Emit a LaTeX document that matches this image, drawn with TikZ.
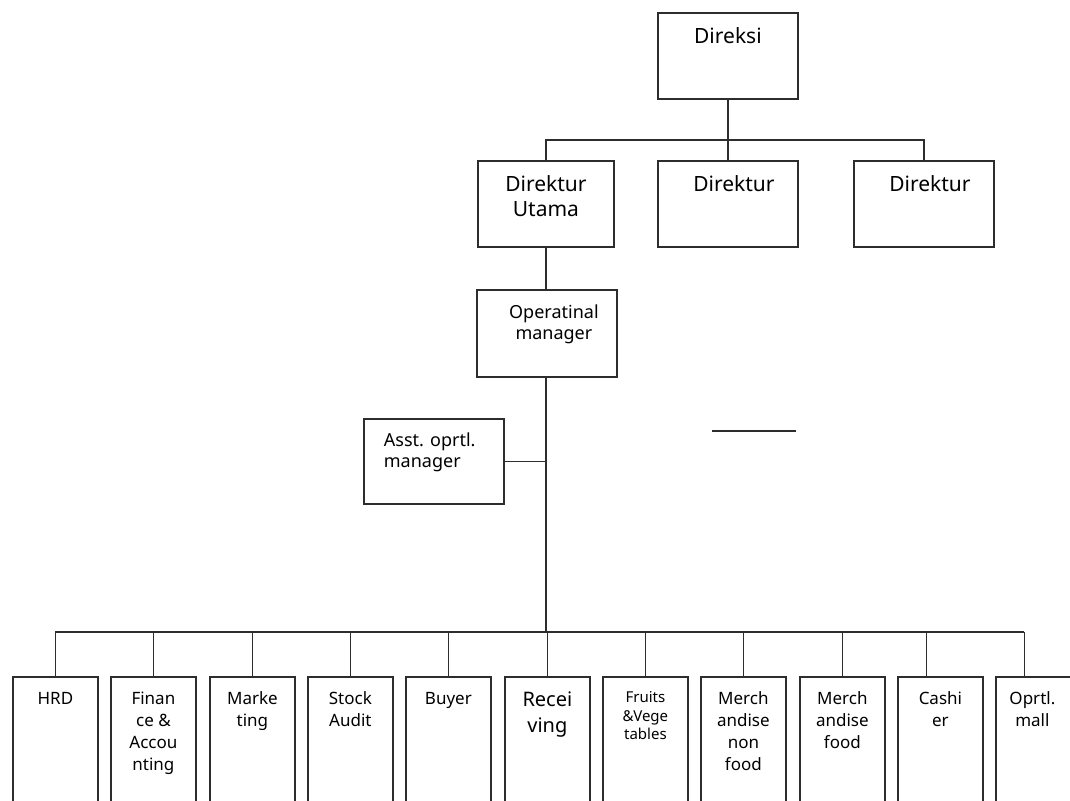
\documentclass[tikz,border=0pt]{standalone}
\usepackage{fontspec}
\setmainfont{Noto Sans}
\begin{document}
\begin{tikzpicture}[x=1pt, y=-1pt, line width=1.8pt]
	\definecolor{linegray}{RGB}{45, 45, 45}
	\tikzset{
		unit/.style={draw=linegray, inner sep=0pt, anchor=north west},
		caption/.style={anchor=north, align=center, inner sep=0pt, font=\fontsize{21}{25}\selectfont},
		midcap/.style={caption, font=\fontsize{18}{21}\selectfont},
		smallcap/.style={caption, font=\fontsize{17}{22}\selectfont},
		tinycap/.style={caption, font=\fontsize{15}{18.5}\selectfont},
		bigcap/.style={caption, font=\fontsize{20}{26}\selectfont}
	}
	\clip (0, 0) rectangle (1070, 800);
	
	% \drawunit#name#x#y#width#height#captionstyle#label
	\def\drawunit#1#2#3#4#5#6#7{
		\node[unit, minimum width=#4pt, minimum height=#5pt] (#1) at (#2, #3) {};
		\node[#6] (#1-label) at ([yshift=-15pt]#1.north) {#7};
	}
	
	% \drawstaff#name#x#captionstyle#label
	\def\drawstaff#1#2#3#4{
		\drawunit{#1}{#2}{676}{85}{150}{#3}{#4}
	}
	
	% top levels
	\drawunit{direksi}{657}{12}{140}{86}{caption}{Direksi}
	\drawunit{dirut}{477}{160}{136}{86}{caption}{Direktur\\Utama}
	\drawunit{dirtwo}{657}{160}{140}{86}{caption, xshift=6pt}{Direktur}
	\drawunit{dirthree}{853}{160}{140}{86}{caption, xshift=6pt}{Direktur}
	\coordinate (topbus) at (0, 140);
	\draw[linegray] (direksi) -- (dirtwo);
	\draw[linegray] (dirut.north) -- (dirut.north |- topbus) -| (dirthree.north);
	
	% managers
	\drawunit{opman}{476}{289}{140}{87}{midcap, xshift=7pt}{Operatinal\\manager}
	\node[unit, minimum width=140pt, minimum height=85pt] (asst) at (363, 418) {};
	\node[midcap, anchor=north west, align=left] (asst-label) at ([xshift=20pt, yshift=-14pt]asst.north west) {Asst. oprtl.\\manager};
	\draw[linegray] (dirut.south) -- (dirut.south |- opman.north);
	\coordinate (botbus) at (0, 632);
	\draw[linegray] (dirut.south |- opman.south) -- (dirut.south |- botbus);
	\draw[linegray] (asst.east) -- (asst.east -| dirut.south);
	\draw[linegray] (712, 431) -- (796, 431);
	
	% staff row
	\drawstaff{hrd}{12}{smallcap}{HRD}
	\drawstaff{finance}{110}{smallcap}{Finan\\ce \&\\Accou\\nting}
	\drawstaff{marketing}{209}{smallcap}{Marke\\ting}
	\drawstaff{audit}{307}{smallcap}{Stock\\Audit}
	\drawstaff{buyer}{405}{smallcap}{Buyer}
	\drawstaff{receiving}{504}{bigcap}{Recei\\ving}
	\drawstaff{fruits}{602}{tinycap}{Fruits\\\&Vege\\tables}
	\drawstaff{nonfood}{700}{smallcap}{Merch\\andise\\non\\food}
	\drawstaff{food}{799}{smallcap}{Merch\\andise\\food}
	\drawstaff{cashier}{897}{smallcap}{Cashi\\er}
	\drawstaff{mall}{995}{smallcap, xshift=-6pt}{Oprtl.\\mall}
	\draw[linegray] (hrd.north |- botbus) -- ([xshift=-14pt]mall.north |- botbus);
	\foreach \s in {hrd, finance, marketing, audit, buyer, receiving, fruits, nonfood, food}
		\draw[linegray] (\s.north) -- (\s.north |- botbus);
	\draw[linegray] ([xshift=-14pt]cashier.north) -- ([xshift=-14pt]cashier.north |- botbus);
	\draw[linegray] ([xshift=-14pt]mall.north) -- ([xshift=-14pt]mall.north |- botbus);
\end{tikzpicture}
\end{document}
